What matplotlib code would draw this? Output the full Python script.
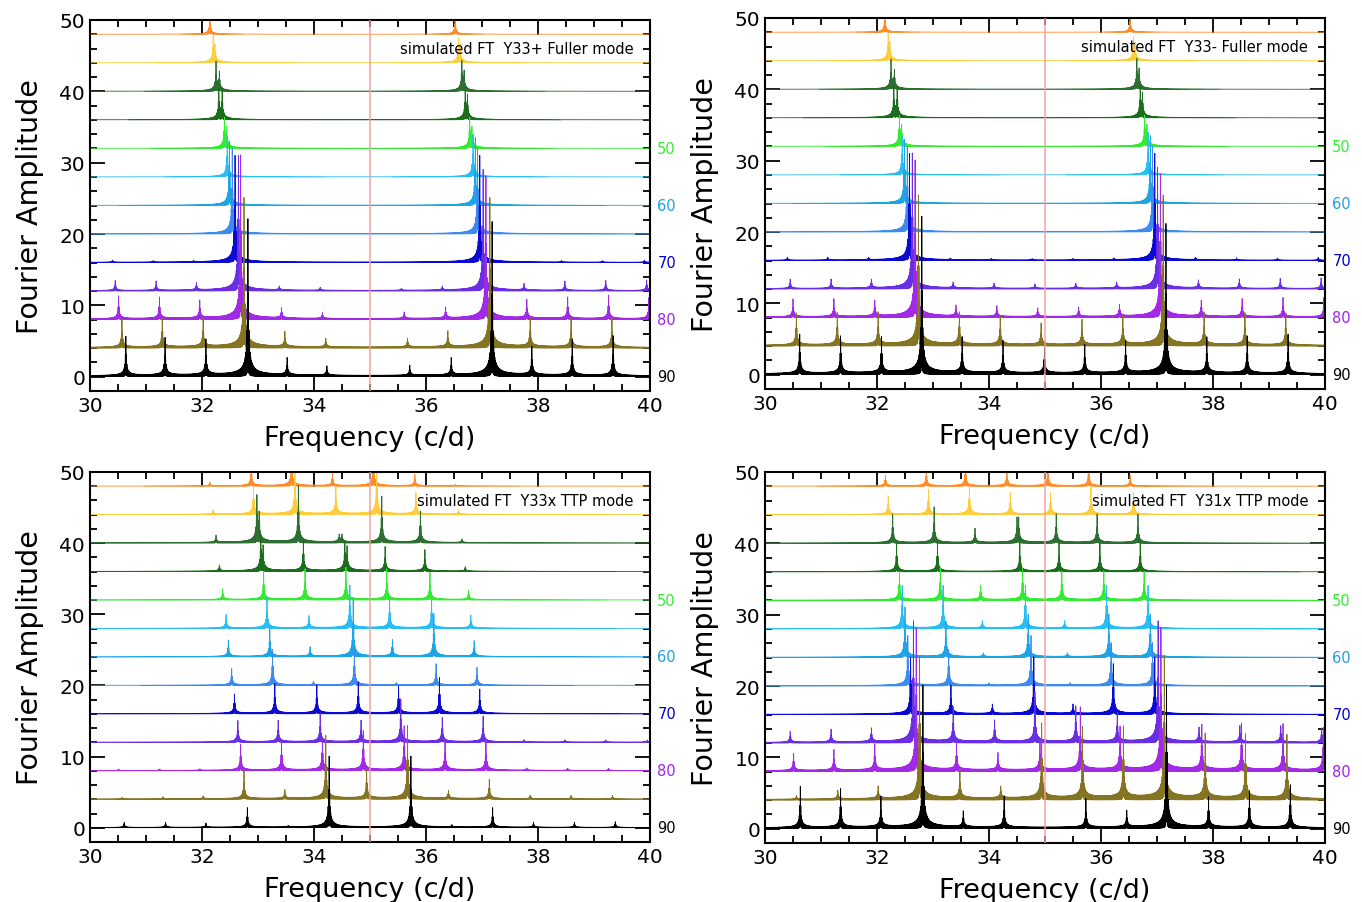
import numpy as np
import matplotlib.pyplot as plt
from matplotlib.ticker import MultipleLocator

# trace offsets (inclinations 90 ... 30 in steps of 5), bottom to top
offsets = [0, 4, 8, 12, 16, 20, 24, 28, 32, 36, 40, 44, 48]
colors = ['#000000', '#857522', '#a22ae6', '#6b2fe3', '#0a0ad2', '#3c8cf0',
          '#1ea5e6', '#28bef5', '#33eb33', '#1b6e1b', '#2c6f30', '#ffcd3c', '#ff8c28']
incl_labels = ['90', '80', '70', '60', '50']
incl_label_pos = [0, 8, 16, 24, 32]
incl_label_colors = ['#000000', '#a020f0', '#0000cd', '#1ea0e6', '#33ee33']
titles = ['simulated FT  Y33+ Fuller mode', 'simulated FT  Y33- Fuller mode',
          'simulated FT  Y33x TTP mode', 'simulated FT  Y31x TTP mode']

# peaks (frequency c/d, amplitude) for each trace, panel 1: Y33+ Fuller
p1_freqs = [
    [30.64, 31.34, 32.07, 32.82, 33.52, 34.23, 35.71, 36.45, 37.18, 37.89, 38.61, 39.34],
    [30.57, 31.29, 32.02, 32.75, 33.48, 34.21, 35.67, 36.39, 37.14, 37.86, 38.59, 39.32],
    [30.51, 31.24, 31.96, 32.69, 33.42, 34.15, 35.61, 36.35, 37.07, 37.80, 38.53, 39.26, 39.98],
    [30.45, 31.18, 31.90, 32.65, 33.38, 34.11, 35.56, 36.29, 37.02, 37.75, 38.48, 39.21, 39.94],
    [30.40, 31.13, 31.85, 32.59, 36.96, 38.42, 39.15, 39.90],
    [32.54, 36.92],
    [32.49, 36.88],
    [32.45, 36.84],
    [32.40, 32.44, 36.78, 36.82],
    [32.30, 32.36, 36.70, 36.74],
    [32.25, 32.31, 36.64, 36.68],
    [32.20, 32.23, 36.58, 36.61],
    [32.14, 36.52],
]
p1_amps = [
    [5.5, 5.3, 5.0, 22, 2.4, 1.3, 1.4, 2.4, 21.6, 4.0, 5.0, 5.6],
    [4.0, 4.0, 4.0, 21, 2.1, 1.2, 1.2, 2.2, 21, 4.0, 4.0, 4.2],
    [3.2, 3.0, 2.5, 23, 1.4, 0.8, 0.9, 1.5, 20, 2.6, 3.0, 3.3, 3.0],
    [1.4, 1.3, 1.0, 19, 0.5, 0.4, 0.3, 0.5, 17, 0.9, 1.3, 1.4, 1.5],
    [0.3, 0.2, 0.15, 15, 15, 0.2, 0.2, 0.3],
    [12, 12],
    [9, 9.5],
    [5.5, 6],
    [4, 2.5, 4, 2.5],
    [4, 4, 4, 3],
    [4, 2.4, 4, 2.4],
    [3.4, 2, 3, 2],
    [3, 2.5],
]

# panel 2: Y33- Fuller
p2_freqs = [
    [30.62, 31.35, 32.08, 32.80, 33.52, 34.25, 34.99, 35.71, 36.44, 37.16, 37.89, 38.61, 39.34],
    [30.56, 31.29, 32.02, 32.74, 33.47, 34.20, 34.93, 35.66, 36.39, 37.11, 37.84, 38.57, 39.30],
    [30.50, 31.23, 31.96, 32.68, 33.41, 34.14, 34.87, 35.60, 36.33, 37.06, 37.79, 38.52, 39.25, 39.98],
    [30.45, 31.18, 31.90, 32.63, 33.36, 34.09, 34.82, 35.55, 36.28, 37.01, 37.74, 38.47, 39.20, 39.93],
    [30.40, 31.12, 31.85, 32.58, 33.31, 34.04, 34.77, 35.50, 36.23, 36.96, 37.69, 38.42, 39.15, 39.88],
    [32.54, 36.92],
    [32.49, 36.88],
    [32.45, 36.84],
    [32.40, 32.44, 36.78, 36.82],
    [32.30, 32.36, 36.70, 36.74],
    [32.25, 32.31, 36.64, 36.68],
    [32.20, 32.23, 36.58, 36.61],
    [32.14, 36.52],
]
p2_amps = [
    [5.5, 5.2, 5.0, 22, 5.0, 4.5, 3.5, 4.0, 4.5, 21, 5.0, 5.2, 5.5],
    [4.5, 4.5, 4.5, 21, 4.5, 4.0, 3.0, 3.5, 4.0, 21, 4.5, 4.5, 4.5],
    [2.5, 2.5, 2.2, 22, 1.5, 1.5, 1.2, 1.3, 1.6, 20, 2.2, 2.5, 2.7, 2.7],
    [1.3, 1.3, 1.2, 19, 0.8, 0.7, 0.6, 0.7, 0.8, 17, 1.1, 1.3, 1.4, 1.5],
    [0.4, 0.4, 0.3, 15, 0.2, 0.2, 0.2, 0.2, 0.2, 15, 0.3, 0.3, 0.3, 0.4],
    [12, 12],
    [9, 9.5],
    [5.5, 6],
    [4, 2.5, 4, 2.5],
    [4, 4, 4, 3],
    [4, 2.4, 4, 2.4],
    [3.4, 2, 3, 2],
    [3, 2.5],
]

# panel 3: Y33x TTP
p3_freqs = [
    [30.61, 31.35, 32.07, 32.81, 33.54, 34.27, 35.73, 36.46, 37.19, 37.92, 38.65, 39.38],
    [30.57, 31.30, 32.02, 32.75, 33.48, 34.21, 34.94, 35.67, 36.40, 37.13, 37.86, 38.59, 39.33],
    [30.51, 31.24, 31.96, 32.69, 33.42, 34.15, 34.88, 35.61, 36.34, 37.07, 37.80, 38.53, 39.26],
    [32.64, 33.36, 34.11, 34.84, 35.55, 36.29, 37.02, 37.75, 38.48, 39.21, 39.95],
    [32.58, 33.30, 34.05, 34.79, 35.51, 36.24, 36.96],
    [32.53, 33.26, 33.99, 34.72, 35.47, 36.18, 36.91],
    [32.47, 33.21, 33.93, 34.70, 35.40, 36.14, 36.86],
    [32.43, 33.16, 33.91, 34.64, 35.35, 36.10, 36.80],
    [32.37, 33.10, 33.84, 34.57, 35.30, 36.07, 36.76],
    [32.31, 33.05, 33.09, 33.81, 34.55, 34.59, 35.27, 35.98, 36.70],
    [32.25, 32.98, 33.02, 33.72, 34.45, 34.50, 35.21, 35.90, 36.64],
    [32.20, 32.92, 33.66, 34.39, 35.12, 35.82, 36.58],
    [32.14, 32.88, 33.60, 34.33, 35.06, 35.80, 36.53],
]
p3_amps = [
    [0.7, 0.7, 0.6, 2.75, 0.2, 10, 10, 0.3, 2.75, 0.7, 0.7, 0.8],
    [0.2, 0.3, 0.4, 3.9, 1.2, 8.9, 4.0, 10.3, 1.1, 2.7, 0.5, 0.5, 0.5],
    [0.2, 0.2, 0.2, 3.6, 4.0, 4.5, 5.5, 6.2, 4.3, 4.2, 0.3, 0.3, 0.3],
    [3.0, 3.0, 4.0, 3.0, 6.0, 3.4, 3.6, 0.3, 0.3, 0.3, 0.3],
    [2.7, 4.2, 4.0, 4.4, 3.8, 5.0, 3.4],
    [2.3, 5.0, 0.5, 5.0, 0.3, 3.0, 2.5],
    [2.3, 3.9, 1.3, 8.0, 2.3, 6.0, 2.2],
    [1.9, 4.2, 1.7, 6.0, 4.0, 4.0, 1.8],
    [1.5, 3.9, 4.3, 4.5, 4.3, 3.8, 1.3],
    [0.8, 4.6, 3.0, 4.4, 3.7, 3.0, 3.4, 3.0, 0.6],
    [1.0, 6.2, 3.5, 8.0, 1.0, 1.0, 6.5, 4.4, 0.5],
    [0.6, 3.9, 7.0, 3.9, 7.0, 3.0, 0.6],
    [0.5, 3.0, 5.0, 1.7, 5.0, 1.6, 0.2],
]

# panel 4: Y31x TTP
p4_freqs = [
    [30.63, 31.35, 32.07, 32.82, 33.54, 34.27, 35.73, 36.46, 37.17, 37.92, 38.65, 39.38],
    [30.56, 31.30, 32.02, 32.76, 33.48, 34.21, 34.94, 35.67, 36.40, 37.13, 37.86, 38.58, 39.32],
    [30.51, 31.23, 31.96, 32.70, 33.42, 34.16, 34.91, 35.63, 36.34, 37.07, 37.80, 38.51, 39.25, 39.97],
    [30.45, 31.18, 31.90, 32.65, 33.36, 34.10, 34.82, 35.55, 36.29, 37.02, 37.75, 38.48, 39.21, 39.94],
    [32.60, 33.32, 34.06, 34.80, 35.50, 36.22, 36.96],
    [32.55, 33.28, 34.00, 34.75, 35.45, 36.18, 36.92],
    [32.50, 33.23, 33.90, 34.70, 35.40, 36.14, 36.88],
    [32.45, 33.18, 33.88, 34.65, 35.35, 36.10, 36.84],
    [32.40, 33.13, 33.85, 34.60, 35.30, 36.05, 36.77],
    [32.35, 33.08, 34.55, 35.25, 35.98, 36.70],
    [32.28, 33.02, 33.75, 34.50, 34.53, 35.20, 35.93, 36.66],
    [32.20, 32.92, 33.65, 34.38, 35.10, 35.82, 36.58],
    [32.15, 32.88, 33.58, 34.32, 35.05, 35.78, 36.52],
]
p4_amps = [
    [5.8, 5.4, 4.3, 20, 2.2, 4.4, 4.0, 2.3, 20, 4.2, 5.1, 6.0],
    [0.5, 1.2, 1.7, 20, 4.0, 1.6, 10.5, 10, 10, 20, 9, 9, 9],
    [2.4, 2.9, 3.6, 20, 3.6, 2.4, 4.0, 8.8, 6.0, 20, 6.3, 6.5, 6.5, 6.0],
    [1.5, 1.8, 1.9, 17, 4.8, 3.0, 7.0, 5.0, 4.0, 17, 2.0, 2.3, 2.3, 2.0],
    [8, 4, 1.3, 8, 1.3, 7, 8],
    [7, 5, 0.3, 7, 0.3, 6, 6],
    [7, 5, 0.5, 6, 0.5, 6, 6],
    [6, 6, 1, 6, 1, 6, 6],
    [4, 4.5, 2, 4.5, 4, 4, 4],
    [4, 4, 4, 4, 4, 4],
    [4, 5, 2, 3, 3, 4, 4, 4],
    [2.5, 3.5, 4, 3, 3, 4, 3],
    [1.5, 2.5, 3, 2.5, 3, 3, 1.5],
]

panel_freqs = [p1_freqs, p2_freqs, p3_freqs, p4_freqs]
panel_amps = [p1_amps, p2_amps, p3_amps, p4_amps]

# axes boxes in pixels: left, top, right, bottom
boxes = [(90, 21, 650, 392), (765, 19, 1325, 390), (90, 473, 650, 843), (765, 473, 1325, 844)]

gam = 0.006    # damping half width (c/d)
Tobs = 100.0   # time span (d) -> fine window ripple
freq = np.arange(29.9, 40.1, 0.0004)

fig = plt.figure(figsize=(13.62, 9.03), dpi=100)
W, H = 1362, 903

for k in range(4):
    l, t, r, b = boxes[k]
    ax = fig.add_axes([l / W, 1 - b / H, (r - l) / W, (b - t) / H])
    ax.axvline(35, color='#f0a0a0', lw=1.3, alpha=0.8, zorder=5)
    for i in range(12, -1, -1):
        amp = np.zeros_like(freq)
        for f0, a0 in zip(panel_freqs[k][i], panel_amps[k][i]):
            d = freq - f0
            amp += a0 * gam / np.sqrt(d * d + gam * gam) * np.abs(np.cos(np.pi * Tobs * d))
        ax.plot(freq, amp + offsets[i], color=colors[i], lw=0.6, zorder=2 + (12 - i) * 0.01)
    ax.set_xlim(30, 40)
    ax.set_ylim(-2, 50)
    ax.xaxis.set_major_locator(MultipleLocator(2))
    ax.xaxis.set_minor_locator(MultipleLocator(0.5))
    ax.yaxis.set_major_locator(MultipleLocator(10))
    ax.yaxis.set_minor_locator(MultipleLocator(2))
    ax.tick_params(which='both', direction='in', top=True, right=True, width=1.3, labelsize=14.5)
    ax.tick_params(which='major', length=11)
    ax.tick_params(which='minor', length=5)
    for s in ax.spines.values():
        s.set_linewidth(1.5)
    ax.set_xlabel('Frequency (c/d)', fontsize=19.5, labelpad=7)
    ax.set_ylabel('Fourier Amplitude', fontsize=20.5, labelpad=11)
    ax.text(39.7, 46, titles[k], ha='right', va='center', fontsize=10.5, zorder=6)
    for lab, yp, c in zip(incl_labels, incl_label_pos, incl_label_colors):
        ax.text(40.13, yp, lab, ha='left', va='center', fontsize=10.5, color=c, clip_on=False)

fig.savefig('out.png', dpi=100)
